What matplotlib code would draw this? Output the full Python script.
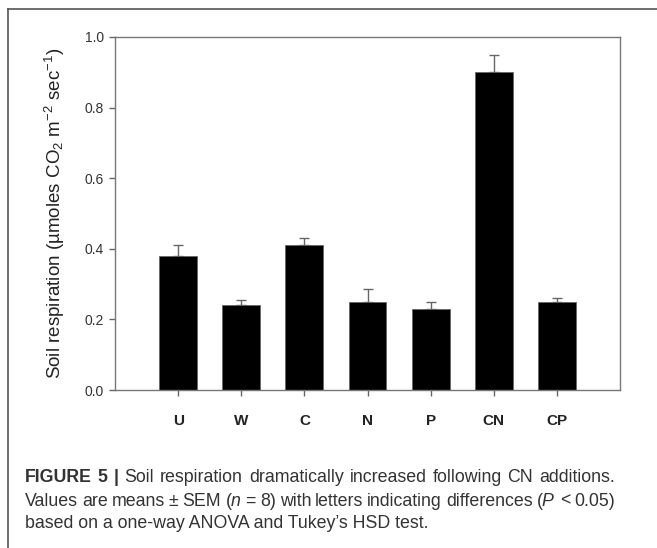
import matplotlib
matplotlib.use("Agg")
import matplotlib.pyplot as plt
from matplotlib.lines import Line2D
import numpy as np

# treatments and soil respiration (umoles CO2 m-2 sec-1), mean and SEM
treatments = ['U', 'W', 'C', 'N', 'P', 'CN', 'CP']
resp_mean = [0.38, 0.24, 0.41, 0.25, 0.23, 0.90, 0.25]
resp_sem = [0.03, 0.015, 0.02, 0.035, 0.02, 0.05, 0.01]
y_ticks = [0.0, 0.2, 0.4, 0.6, 0.8, 1.0]

# caption lines, word by word (first two lines are justified)
caption_line1 = ['FIGURE', '5', '|', 'Soil', 'respiration', 'dramatically', 'increased',
                 'following', 'CN', 'additions.']
caption_line2 = ['Values', 'are', 'means', '\u00b1', 'SEM', r'($n$', '=', '8)', 'with',
                 'letters', 'indicating', 'differences', r'($P$', '<', '0.05)']
caption_line3 = 'based on a one-way ANOVA and Tukey\u2019s HSD test.'

plt.rcParams['font.family'] = ['Liberation Sans', 'DejaVu Sans']
plt.rcParams['mathtext.fontset'] = 'custom'
plt.rcParams['mathtext.rm'] = 'Liberation Sans'
plt.rcParams['mathtext.it'] = 'Liberation Sans:italic'

W, H = 657, 548
fig = plt.figure(figsize=(W / 100, H / 100), dpi=100)
ax = fig.add_axes([115 / W, 1 - 390 / H, 505 / W, 353 / H])

x = np.arange(1, len(treatments) + 1)
ax.bar(x, resp_mean, width=0.6, color='black', edgecolor='#666666', linewidth=0.6, zorder=2)
# only the upper half of the error bar is drawn
ax.errorbar(x, resp_mean, yerr=[np.zeros(len(resp_sem)), resp_sem], fmt='none',
            ecolor='#666666', elinewidth=1, capsize=3.8, capthick=1, zorder=1)

ax.set_xlim(0, len(treatments) + 1)
ax.set_ylim(0, 1.0)
ax.set_xticks(x)
ax.set_xticklabels(treatments, fontweight='bold', fontsize=11, color='#222222')
ax.set_yticks(y_ticks)
ax.set_yticklabels(['%.1f' % t for t in y_ticks], fontsize=10, color='#333333')
ax.tick_params(axis='x', length=4, width=1, color='#666666', pad=13)
ax.tick_params(axis='y', length=4, width=1, color='#666666', pad=4)
for sp in ax.spines.values():
    sp.set_color('#777777')
    sp.set_linewidth(1)

ax.set_ylabel(r'Soil respiration (µmoles CO$_2$ m$^{-2}$ sec$^{-1}$)', fontsize=13.5,
              color='#222222')
ax.yaxis.set_label_coords(-0.095, 0.5)

# frame around the figure (only left and top visible)
fig.add_artist(Line2D([8 / W, 8 / W], [0, 1 - 9 / H], transform=fig.transFigure,
                      color='#555555', linewidth=1.2))
fig.add_artist(Line2D([8 / W, 1], [1 - 9 / H, 1 - 9 / H], transform=fig.transFigure,
                      color='#555555', linewidth=1.2))

# caption
cap_size = 12.8
cap_color = '#333333'
cap_left, cap_right = 25, 615
renderer = fig.canvas.get_renderer()


def justified_line(words, ypix, bold_count=0):
    texts = []
    for i, w in enumerate(words):
        t = fig.text(0, 1 - ypix / H, w, fontsize=cap_size, color=cap_color, va='center',
                     fontweight='bold' if i < bold_count else 'normal')
        texts.append(t)
    widths = [t.get_window_extent(renderer).width for t in texts]
    gap = (cap_right - cap_left - sum(widths)) / (len(words) - 1)
    xpos = cap_left
    for t, w in zip(texts, widths):
        t.set_x(xpos / W)
        xpos += w + gap


justified_line(caption_line1, 478, bold_count=3)
justified_line(caption_line2, 501)
fig.text(cap_left / W, 1 - 524 / H, caption_line3, fontsize=cap_size, color=cap_color, va='center')

fig.savefig('out.png', dpi=100)
